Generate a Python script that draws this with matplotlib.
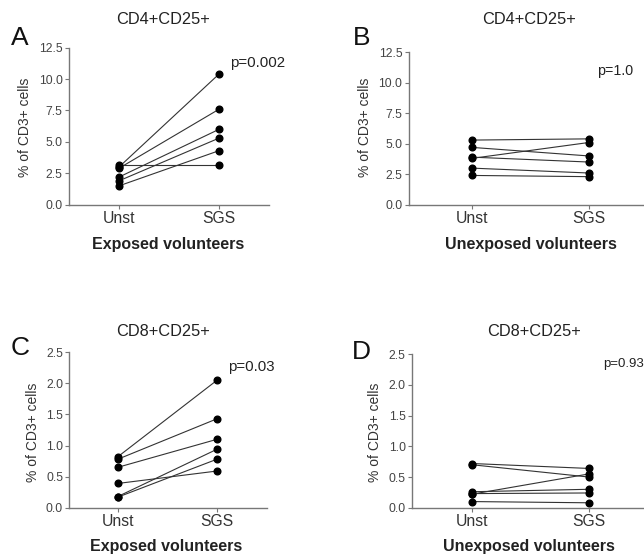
import matplotlib.pyplot as plt
import numpy as np

plt.rcParams['font.family'] = ['Liberation Sans', 'DejaVu Sans']

groups = ["Unst", "SGS"]

# panel A: CD4+CD25+, exposed
a_unst = [3.0, 2.9, 2.2, 1.9, 1.5, 3.2]
a_sgs = [10.4, 7.6, 6.0, 5.3, 4.3, 3.2]
# panel B: CD4+CD25+, unexposed
b_unst = [5.3, 4.7, 3.9, 3.8, 3.0, 2.4]
b_sgs = [5.4, 4.0, 3.5, 5.1, 2.6, 2.3]
# panel C: CD8+CD25+, exposed
c_unst = [0.82, 0.78, 0.65, 0.39, 0.18, 0.17]
c_sgs = [2.05, 1.43, 1.10, 0.59, 0.94, 0.78]
# panel D: CD8+CD25+, unexposed
d_unst = [0.72, 0.70, 0.22, 0.26, 0.23, 0.10]
d_sgs = [0.64, 0.50, 0.55, 0.30, 0.24, 0.08]

W, H = 644, 558
fig = plt.figure(figsize=(W / 100, H / 100), dpi=100)


def px(x, y):
    return x / W, 1 - y / H


def panel(rect, xlim, ylim, yticks, unst, sgs, ptxt, pxy, psize):
    ax = fig.add_axes(rect)
    for u, s in zip(unst, sgs):
        ax.plot([0, 1], [u, s], color='#333333', lw=0.8,
                marker='o', ms=4.8, mfc='black', mec='black', zorder=3)
    ax.set_xlim(*xlim)
    ax.set_ylim(*ylim)
    ax.set_xticks([0, 1])
    ax.set_xticklabels(groups, fontsize=11.3, color='#333333')
    ax.set_yticks(yticks)
    ax.set_yticklabels(["%.1f" % v for v in yticks], fontsize=8.8, color='#444444')
    for s in ['top', 'right']:
        ax.spines[s].set_visible(False)
    for s in ['left', 'bottom']:
        ax.spines[s].set_color('#777777')
        ax.spines[s].set_linewidth(1.0)
    ax.tick_params(length=3, width=0.8, color='#777777', pad=1.5)
    ax.text(pxy[0], pxy[1], ptxt, fontsize=psize, color='#222222', ha='left', va='center')
    return ax


big = [0, 2.5, 5.0, 7.5, 10.0, 12.5]
small = [0, 0.5, 1.0, 1.5, 2.0, 2.5]

panel([69 / W, 1 - 204.7 / H, 200 / W, 157 / H], (-0.5, 1.5), (0, 12.5), big,
      a_unst, a_sgs, "p=0.002", (1.11, 11.3), 10.8)
panel([408.7 / W, 1 - 204.7 / H, 235.3 / W, 152.4 / H], (-0.542, 1.474), (0, 12.5), big,
      b_unst, b_sgs, "p=1.0", (1.07, 11.0), 10.3)
panel([69.3 / W, 1 - 507.7 / H, 197.7 / W, 155.4 / H], (-0.49, 1.505), (0, 2.5), small,
      c_unst, c_sgs, "p=0.03", (1.11, 2.26), 10.8)
panel([412 / W, 1 - 507.7 / H, 232 / W, 153.4 / H], (-0.514, 1.474), (0, 2.5), small,
      d_unst, d_sgs, "p=0.93", (1.12, 2.34), 9.5)

titles = [("CD4+CD25+", 163, 20), ("CD4+CD25+", 529, 20),
          ("CD8+CD25+", 163, 331), ("CD8+CD25+", 534, 332)]
for t, x, y in titles:
    fig.text(*px(x, y), t, fontsize=11.8, ha='center', va='center', color='#222222')

letters = [("A", 20, 38), ("B", 362, 38), ("C", 20, 348), ("D", 361, 352)]
for t, x, y in letters:
    fig.text(*px(x, y), t, fontsize=19, ha='center', va='center', color='#111111')

xlabels = [("Exposed volunteers", 168, 245), ("Unexposed volunteers", 531, 245),
           ("Exposed volunteers", 166, 546), ("Unexposed volunteers", 529, 546)]
for t, x, y in xlabels:
    fig.text(*px(x, y), t, fontsize=11.5, fontweight='bold', ha='center', va='center',
             color='#222222')

ylabels = [(25, 127), (365, 127), (33, 432), (375, 432)]
for x, y in ylabels:
    fig.text(*px(x, y), "% of CD3+ cells", fontsize=10, rotation=90,
             ha='center', va='center', color='#333333')

fig.savefig("out.png", dpi=100)
